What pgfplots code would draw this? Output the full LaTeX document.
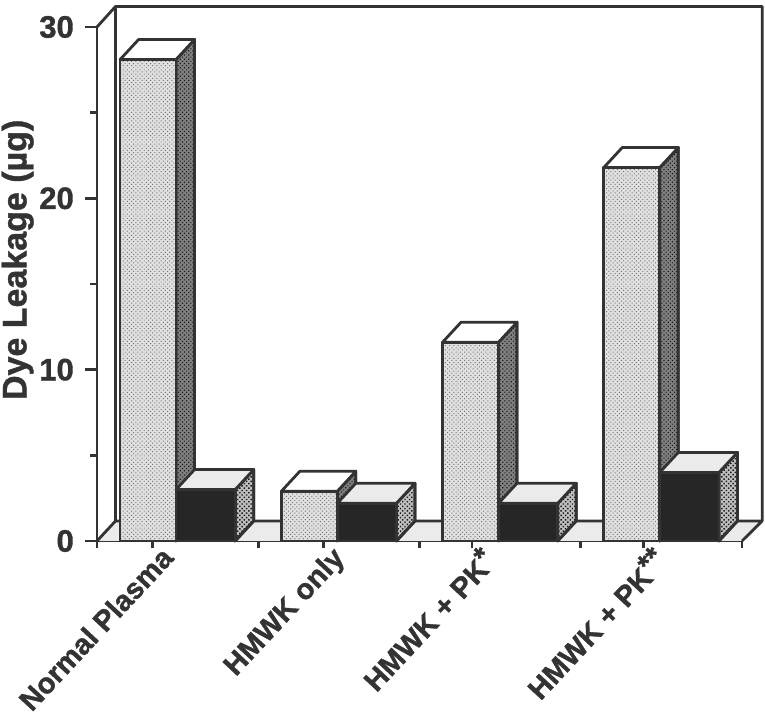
\documentclass[border=0pt]{standalone}
\usepackage{fontspec}
\setmainfont{Liberation Sans}
\newfontface\boldink[FakeBold=1.2]{Liberation Sans Bold}
\usepackage{pgfplots}
\pgfplotsset{compat=1.18}
\usetikzlibrary{patterns.meta}
\definecolor{ink}{gray}{0.2}
\tikzset{
  lightdots/.style={preaction={fill=black!12},pattern={Dots[radius=0.7pt,distance=3pt,angle=45]},pattern color=black!55},
  sidedark/.style={preaction={fill=black!50},pattern={Dots[radius=0.8pt,distance=3pt,angle=45]},pattern color=black!90},
  sidemid/.style={preaction={fill=black!25},pattern={Dots[radius=1pt,distance=3.2pt,angle=45]},pattern color=black!90},
  edge/.style={draw=ink,line width=2.8pt,line join=round},
}
% depth of the chart: 0.115 category, 1.17 ug
\newcommand{\sidetop}[5]{% x0 x1 h topfill sidestyle
  \addplot[edge,#5] coordinates {(#2,#3)(#2+0.115,#3+1.17)(#2+0.115,1.17)(#2,0)} --cycle;
  \addplot[edge,fill=#4] coordinates {(#1,#3)(#1+0.115,#3+1.17)(#2+0.115,#3+1.17)(#2,#3)} --cycle;
}
\begin{document}
\begin{tikzpicture}
\path[use as bounding box] (-97pt,-178pt) rectangle (668pt,541pt);
\begin{axis}[
  at={(0pt,0pt)},anchor=south west,
  scale only axis,width=645pt,height=514pt,
  xmin=0,xmax=4,ymin=0,ymax=30,
  clip=false,
  axis lines*=left,
  axis line style={draw=ink,line width=2.8pt},
  tick style={draw=ink,line width=2.8pt},
  major tick length=12pt,minor tick length=7pt,
  tick align=outside,
  xtick={0,1,2,3,4},
  xticklabels={},
  x tick style={/pgfplots/major tick length=7pt},
  extra x ticks={0.345,1.405,2.325,3.39},
  extra x tick labels={Normal Plasma,HMWK only,HMWK + PK\raisebox{0.22em}{*},HMWK + PK\raisebox{0.22em}{**}},
  extra x tick style={major tick length=0pt,
    tick label style={font=\boldink\fontsize{29}{30}\selectfont,text=ink,rotate=47,anchor=north east,inner sep=0pt,yshift=-7.5pt,xshift=2pt}},
  ytick={0,10,20,30},
  minor ytick={5,15,25},
  yticklabel style={font=\boldink\fontsize{31}{32}\selectfont,text=ink,inner sep=0pt,xshift=-11pt},
  /pgf/number format/assume math mode=true,
  ylabel={Dye Leakage (µg)},
  every axis y label/.style={at={(axis description cs:-0.123,0.547)},rotate=90,anchor=center,font=\boldink\fontsize{34}{35}\selectfont,text=ink},
]
% floor and walls
\addplot[draw=none,fill=black!8] coordinates {(0,0)(0.115,1.17)(4.125,1.17)(4,0)} --cycle;
\addplot[edge] coordinates {(0,0)(0.115,1.17)(4.125,1.17)(4,0)};
\addplot[edge] coordinates {(0,30)(0.115,31.2)(4.125,31.2)(4.125,1.17)};
\addplot[edge] coordinates {(0.115,31.2)(0.115,1.17)};
% first series: sides and tops, then fronts
\sidetop{0.143}{0.49}{28.1}{white}{sidedark}
\sidetop{1.143}{1.49}{2.9}{white}{sidedark}
\sidetop{2.143}{2.49}{11.6}{white}{sidedark}
\sidetop{3.143}{3.49}{21.8}{white}{sidedark}
\addplot[ybar,bar width=0.347,edge,lightdots] coordinates {(0.3165,28.1)(1.3165,2.9)(2.3165,11.6)(3.3165,21.8)};
% second series
\sidetop{0.49}{0.857}{3.0}{black!8}{sidemid}
\sidetop{1.49}{1.857}{2.2}{black!8}{sidemid}
\sidetop{2.49}{2.857}{2.2}{black!8}{sidemid}
\sidetop{3.49}{3.857}{4.0}{black!8}{sidemid}
\addplot[ybar,bar width=0.367,edge,fill=black!85] coordinates {(0.6735,3.0)(1.6735,2.2)(2.6735,2.2)(3.6735,4.0)};
\end{axis}
\end{tikzpicture}
\end{document}
